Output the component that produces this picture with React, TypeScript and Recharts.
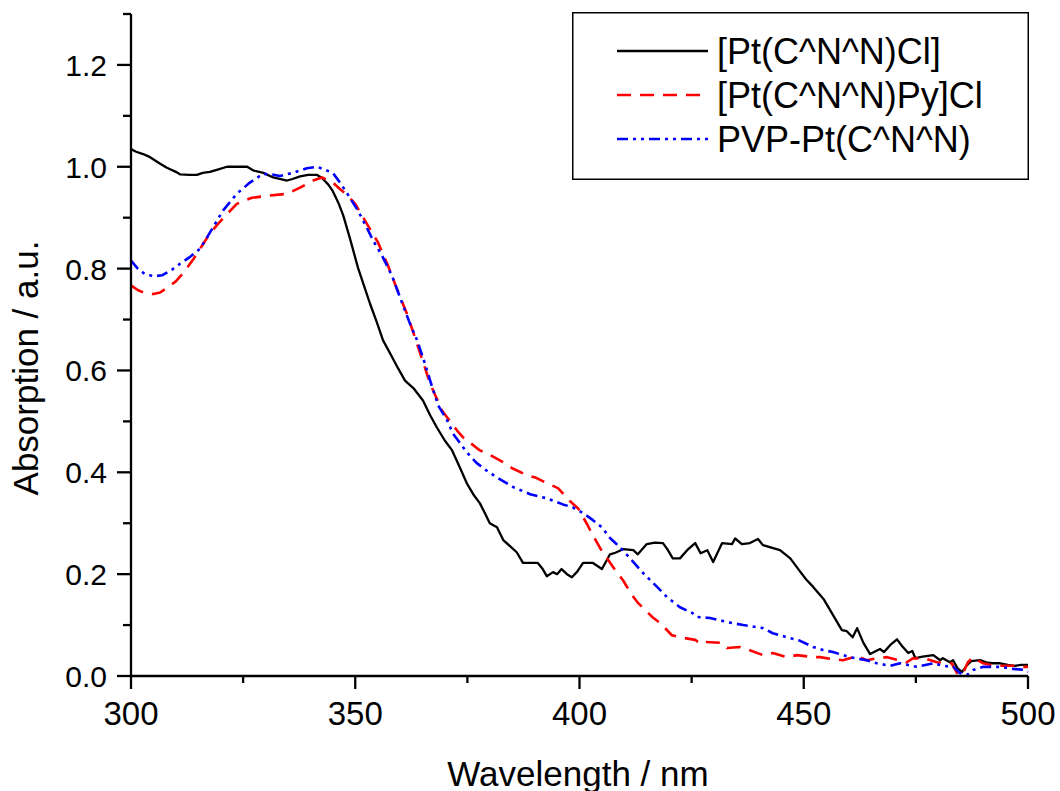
import { LineChart, Line, XAxis, YAxis, Legend } from "recharts";

// [wavelength (nm), absorption]
const ptClSpectrum: [number, number][] = [
  [300, 1.035], [301, 1.03], [302.7, 1.025], [304, 1.02], [306.5, 1.006], [308, 0.998],
  [310, 0.99], [311, 0.985], [313, 0.984], [314.7, 0.984], [316, 0.988], [317.6, 0.99],
  [319.5, 0.995], [321.4, 1.0], [323.5, 1.0], [325.9, 1.0], [327.2, 0.993], [329.5, 0.988],
  [331.7, 0.979], [334.8, 0.973], [336, 0.976], [337.7, 0.981], [339.5, 0.984], [341.5, 0.984],
  [342.6, 0.978], [344, 0.965], [345, 0.952], [346.2, 0.93], [347.3, 0.905], [348.8, 0.86],
  [350.6, 0.802], [352, 0.765], [353.3, 0.731], [354.8, 0.695], [356.2, 0.659], [358, 0.63],
  [359.5, 0.605], [361.1, 0.58], [363, 0.565], [365.1, 0.541], [366.7, 0.512], [368.2, 0.488],
  [370, 0.462], [371.6, 0.443], [373.3, 0.41], [374.9, 0.378], [376.3, 0.357], [377.8, 0.339],
  [379, 0.318], [380, 0.3], [381.6, 0.292], [383, 0.267], [384.5, 0.255], [386, 0.243],
  [387.4, 0.222], [389, 0.222], [390.7, 0.222], [391.8, 0.21], [392.7, 0.196], [394.1, 0.204],
  [395, 0.2], [396, 0.21], [397.2, 0.2], [398.3, 0.194], [399.5, 0.205], [400.8, 0.222],
  [403, 0.222], [405, 0.21], [406.8, 0.239], [408, 0.242], [409.7, 0.249], [412, 0.247],
  [413, 0.239], [415, 0.259], [416.8, 0.262], [418.6, 0.261], [419.5, 0.25], [420.8, 0.231],
  [422.4, 0.231], [424, 0.247], [425.8, 0.261], [427, 0.241], [428.5, 0.247], [429.8, 0.224],
  [431.8, 0.261], [434, 0.259], [434.7, 0.27], [436.2, 0.259], [438, 0.261], [439.8, 0.269],
  [440.9, 0.257], [442.8, 0.252], [444.7, 0.247], [447, 0.231], [449.2, 0.205], [450.5, 0.19],
  [452.1, 0.175], [454.5, 0.15], [456.5, 0.12], [458.5, 0.09], [459.6, 0.088], [460.9, 0.076],
  [461.9, 0.094], [463.3, 0.065], [464.8, 0.043], [467, 0.053], [467.9, 0.047], [469.3, 0.061],
  [470.8, 0.072], [472, 0.058], [473.3, 0.045], [474.2, 0.049], [474.9, 0.035], [476.5, 0.038],
  [478.9, 0.041], [480.4, 0.031], [481, 0.035], [482.6, 0.027], [483.3, 0.031], [484.3, 0.015],
  [485.3, 0.008], [486.3, 0.02], [487.3, 0.029], [489.3, 0.031], [491, 0.026], [492.2, 0.025],
  [493.8, 0.025], [495.5, 0.022], [497, 0.02], [498.5, 0.022], [500, 0.022],
];

const ptPyClSpectrum: [number, number][] = [
  [300, 0.767], [301.5, 0.758], [303, 0.752], [305, 0.75], [306.5, 0.753], [308, 0.762],
  [310, 0.775], [312, 0.795], [314, 0.82], [315.4, 0.839], [317.6, 0.869], [319.4, 0.888],
  [321.4, 0.907], [323.6, 0.927], [325.3, 0.934], [327, 0.939], [330.3, 0.943], [334.8, 0.947],
  [337.7, 0.959], [340.6, 0.973], [342.6, 0.979], [345, 0.969], [346.5, 0.957], [348.1, 0.945],
  [350, 0.927], [352.6, 0.888], [355.1, 0.851], [357.3, 0.806], [359.3, 0.76], [361.5, 0.712],
  [363.3, 0.665], [365, 0.62], [366.7, 0.574], [369.3, 0.522], [372.7, 0.482], [374, 0.469],
  [377.8, 0.443], [379.4, 0.437], [383, 0.42], [385, 0.408], [388.3, 0.394], [390.1, 0.39],
  [393.4, 0.376], [395.2, 0.369], [397.9, 0.343], [399.7, 0.329], [401.7, 0.298], [403, 0.276],
  [404.6, 0.251], [406.4, 0.228], [408.2, 0.205], [409.7, 0.188], [411.7, 0.159], [413.1, 0.143],
  [416.2, 0.116], [418, 0.104], [420.6, 0.08], [422.4, 0.076], [425.8, 0.071], [426.9, 0.063],
  [428, 0.067], [431.8, 0.065], [432.9, 0.055], [435.8, 0.057], [437.3, 0.053], [440.9, 0.041],
  [443.1, 0.045], [446.3, 0.037], [448.5, 0.041], [452.1, 0.037], [453.6, 0.037], [456.5, 0.033],
  [458.7, 0.031], [461.9, 0.039], [464, 0.031], [466.3, 0.035], [468.6, 0.037], [473, 0.027],
  [474.4, 0.035], [477.5, 0.033], [479.7, 0.027], [483, 0.025], [484.4, 0.002], [485.5, 0.005],
  [486.6, 0.027], [487.8, 0.037], [489, 0.03], [490, 0.025], [491.5, 0.022], [493.8, 0.02],
  [496.7, 0.02], [498.7, 0.018], [500, 0.018],
];

const pvpSpectrum: [number, number][] = [
  [300, 0.816], [301.5, 0.8], [303, 0.79], [305, 0.785], [307, 0.787], [309, 0.797],
  [311, 0.81], [313, 0.822], [315.4, 0.839], [318.3, 0.881], [320.5, 0.914], [323.6, 0.947],
  [326.5, 0.969], [329.4, 0.986], [331.5, 0.985], [333.2, 0.982], [336.1, 0.988], [339.2, 0.997],
  [341.5, 1.0], [343, 0.995], [345, 0.988], [346.6, 0.969], [348.1, 0.949], [350.6, 0.914],
  [352.6, 0.88], [354, 0.855], [356, 0.825], [358.2, 0.786], [360, 0.743], [362.2, 0.692],
  [363.8, 0.659], [365.3, 0.62], [366.7, 0.58], [368.5, 0.531], [370.5, 0.502], [371.8, 0.476],
  [374.9, 0.439], [377.1, 0.418], [379.5, 0.402], [381.6, 0.39], [385.2, 0.371], [389, 0.357],
  [392.7, 0.349], [396.3, 0.337], [398.5, 0.331], [400.8, 0.32], [403, 0.306], [405, 0.292],
  [406.8, 0.271], [409, 0.253], [411.3, 0.231], [414.2, 0.202], [417.3, 0.175], [419.5, 0.155],
  [422.4, 0.135], [425.1, 0.124], [426.2, 0.116], [429.1, 0.114], [432.9, 0.106], [436.5, 0.1],
  [440.9, 0.094], [443.1, 0.084], [446.3, 0.076], [449.2, 0.069], [452.1, 0.057], [454.3, 0.051],
  [456.5, 0.047], [460.3, 0.037], [464, 0.031], [466.3, 0.025], [469.3, 0.02], [471.5, 0.025],
  [475.2, 0.018], [478.9, 0.025], [481, 0.02], [483.3, 0.018], [484.8, 0.006], [486.4, 0.002],
  [487.8, 0.012], [490, 0.018], [493.8, 0.018], [496.7, 0.014], [499, 0.012], [500, 0.008],
];

const xTicks = [300, 325, 350, 375, 400, 425, 450, 475, 500];
const yTicks = [0, 0.1, 0.2, 0.3, 0.4, 0.5, 0.6, 0.7, 0.8, 0.9, 1.0, 1.1, 1.2, 1.3];

const FONT = '"Liberation Sans", Arial, sans-serif';

const series = [
  { name: "[Pt(C^N^N)Cl]", points: ptClSpectrum, color: "#000000", dash: undefined, width: 2.3 },
  { name: "[Pt(C^N^N)Py]Cl", points: ptPyClSpectrum, color: "#ff0000", dash: "14 9", width: 2.6 },
  { name: "PVP-Pt(C^N^N)", points: pvpSpectrum, color: "#0000ff", dash: "11 5 3 5 3 5", width: 2.6 },
];

const toRows = (pts: [number, number][]) => pts.map(([w, a]) => ({ w, a }));

function XTick({ x, y, payload }: any) {
  const major = payload.value % 50 === 0;
  return (
    <g>
      <line x1={x} y1={y} x2={x} y2={y + (major ? 13 : 7)} stroke="#000" strokeWidth={2.3} />
      {major && (
        <text x={x} y={y + 49} textAnchor="middle" fontSize={33} fontFamily={FONT} fill="#000">
          {payload.value}
        </text>
      )}
    </g>
  );
}

function YTick({ x, y, payload }: any) {
  const major = Math.round(payload.value * 10) % 2 === 0;
  return (
    <g>
      <line x1={x - (major ? 14 : 8)} y1={y} x2={x} y2={y} stroke="#000" strokeWidth={2.3} />
      {major && (
        <text x={x - 24} y={y + 11} textAnchor="end" fontSize={30} fontFamily={FONT} fill="#000">
          {payload.value.toFixed(1)}
        </text>
      )}
    </g>
  );
}

function LegendBox() {
  return (
    <svg width={457} height={168} style={{ display: "block" }}>
      <rect x={0.75} y={0.75} width={455.5} height={166.5} fill="#fff" stroke="#000" strokeWidth={1.5} />
      {series.map((s, i) => {
        const cy = 39 + i * 44;
        return (
          <g key={s.name}>
            <line x1={45} y1={cy} x2={136} y2={cy} stroke={s.color} strokeWidth={s.width} strokeDasharray={s.dash} />
            <text x={145} y={cy + 13} fontSize={36} fontFamily={FONT} fill="#000">
              {s.name}
            </text>
          </g>
        );
      })}
    </svg>
  );
}

export default function App() {
  return (
    <div style={{ position: "absolute", left: 0, top: 0, width: 1060, height: 791, background: "#fff" }}>
      <LineChart width={1060} height={791} margin={{ top: 14, right: 32, bottom: 0, left: 0 }}>
        <XAxis
          type="number"
          dataKey="w"
          domain={[300, 500]}
          ticks={xTicks}
          interval={0}
          height={115}
          tickSize={0}
          tickMargin={0}
          tickLine={false}
          axisLine={{ stroke: "#000", strokeWidth: 2.3 }}
          tick={<XTick />}
          allowDuplicatedCategory={false}
          label={{
            content: () => (
              <text x={578} y={786} textAnchor="middle" fontSize={35} fontFamily={FONT} fill="#000">
                Wavelength / nm
              </text>
            ),
          }}
        />
        <YAxis
          type="number"
          dataKey="a"
          domain={[0, 1.3]}
          ticks={yTicks}
          interval={0}
          width={131}
          tickSize={0}
          tickMargin={0}
          tickLine={false}
          axisLine={{ stroke: "#000", strokeWidth: 2.3 }}
          tick={<YTick />}
          label={{
            content: () => (
              <text
                x={38}
                y={368}
                transform="rotate(-90, 38, 368)"
                textAnchor="middle"
                fontSize={35}
                fontFamily={FONT}
                fill="#000"
              >
                Absorption / a.u.
              </text>
            ),
          }}
        />
        <Legend
          layout="horizontal"
          verticalAlign="middle"
          align="center"
          wrapperStyle={{ left: 572, top: 12, width: 457, height: 168 }}
          content={() => <LegendBox />}
        />
        {series.map((s) => (
          <Line
            key={s.name}
            name={s.name}
            data={toRows(s.points)}
            dataKey="a"
            type="linear"
            stroke={s.color}
            strokeWidth={s.width}
            strokeDasharray={s.dash}
            strokeLinejoin="round"
            dot={false}
            activeDot={false}
            isAnimationActive={false}
          />
        ))}
      </LineChart>
    </div>
  );
}
